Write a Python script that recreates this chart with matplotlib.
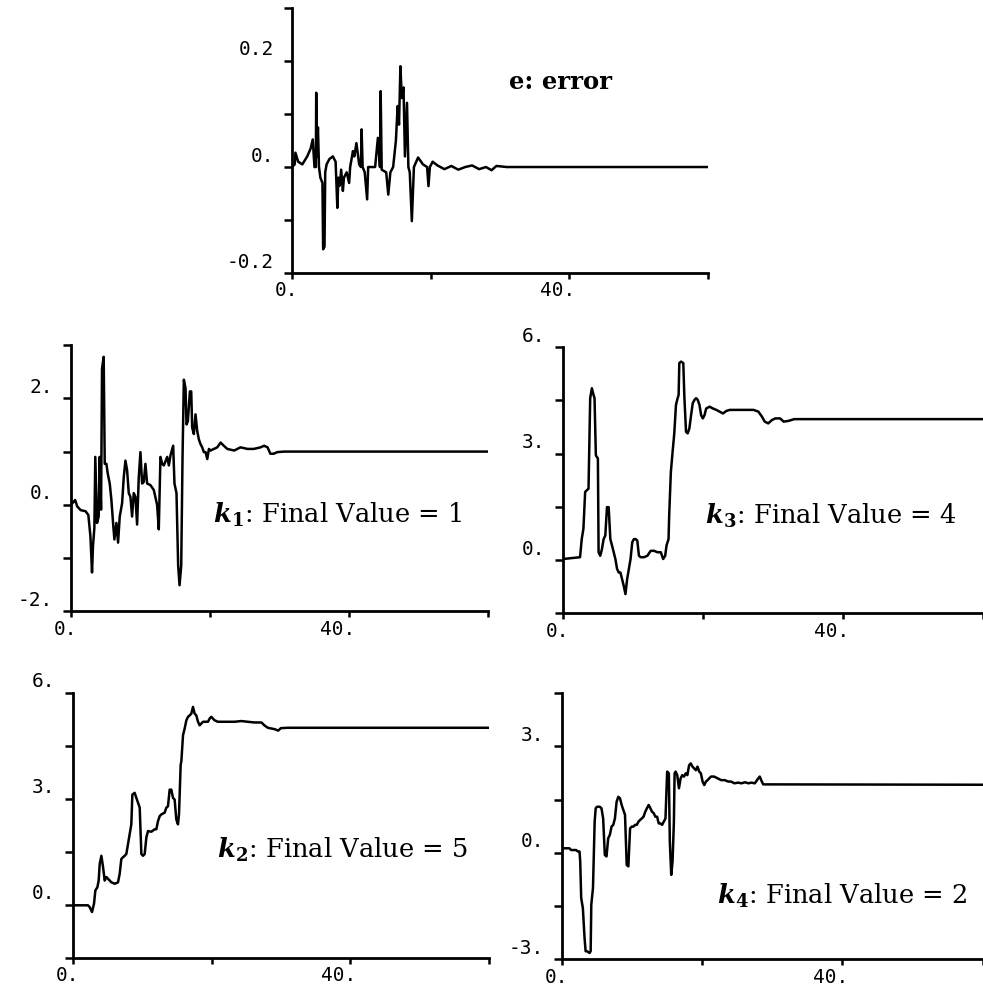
import matplotlib
matplotlib.use("Agg")
import matplotlib.pyplot as plt
from matplotlib.transforms import ScaledTranslation

plt.rcParams["mathtext.fontset"] = "dejavuserif"

# e: error
t_e = [0, 0.4, 0.5, 0.9, 1.5, 2.2, 2.7, 3.0, 3.25, 3.45, 3.5, 3.6, 3.75, 3.9, 4.1, 4.4, 4.5, 4.7,
       4.8, 5.0, 5.4, 5.9, 6.3, 6.55, 6.7, 6.9, 7.1, 7.35, 7.5, 7.9, 8.25, 8.4, 8.8, 9.0, 9.3, 9.7,
       9.95, 10.05, 10.2, 10.5, 10.85, 11.0, 12.0, 12.4, 12.7, 12.8, 12.95, 13.6, 13.9, 14.2, 14.6,
       15.0, 15.25, 15.45, 15.65, 15.85, 16.1, 16.3, 16.6, 16.8, 17.0, 17.3, 17.6, 18.2, 18.9, 19.5,
       19.7, 19.9, 20.3, 21.0, 22.0, 23.0, 24.0, 25.0, 26.0, 27.0, 28.0, 28.8, 29.5, 31.0, 60.0]
e = [0, 0.005, 0.027, 0.01, 0.005, 0.02, 0.035, 0.052, 0.0, 0.0, 0.14, 0.02, 0.075, 0.0, -0.02,
     -0.03, -0.155, -0.15, -0.01, 0.005, 0.015, 0.02, 0.01, -0.077, -0.02, -0.035, -0.005, -0.045,
     -0.02, -0.01, -0.03, 0.0, 0.03, 0.02, 0.045, 0.005, 0.0, 0.071, 0.0, -0.01, -0.061, 0.0, 0.0,
     0.055, 0.0, 0.143, -0.005, -0.01, -0.052, -0.01, 0.0, 0.05, 0.115, 0.08, 0.19, 0.13, 0.15,
     0.02, 0.121, 0.0, -0.01, -0.102, 0.0, 0.018, 0.005, 0.0, -0.036, 0.0, 0.01, 0.003, -0.004,
     0.002, -0.005, 0.0, 0.003, -0.004, 0.0, -0.006, 0.002, 0.0, 0.0]

# k1
t_k1 = [0, 0.6, 0.9, 1.4, 2.1, 2.5, 2.8, 3.03, 3.17, 3.37, 3.5, 3.75, 3.99, 4.13, 4.33, 4.47, 4.71,
        4.86, 5.1, 5.29, 5.58, 5.82, 6.06, 6.25, 6.54, 6.78, 7.02, 7.36, 7.6, 7.84, 8.08, 8.32, 8.56,
        8.8, 9.04, 9.28, 9.52, 9.76, 10.0, 10.24, 10.48, 10.72, 10.96, 11.44, 11.92, 12.4, 12.64,
        12.88, 13.13, 13.37, 13.85, 14.09, 14.33, 14.71, 14.9, 15.19, 15.43, 15.63, 15.87, 16.06,
        16.25, 16.49, 16.63, 16.83, 17.12, 17.31, 17.45, 17.69, 17.93, 18.17, 18.41, 18.65, 18.89,
        19.13, 19.38, 19.62, 19.86, 20.1, 20.58, 21.06, 21.54, 22.0, 22.5, 23.5, 24.4, 25.4, 26.3,
        27.3, 27.8, 28.3, 28.7, 29.2, 29.7, 30.7, 60]
k1 = [0.0, 0.09, -0.03, -0.1, -0.12, -0.19, -0.59, -1.27, -0.77, -0.43, 0.9, -0.34, -0.22, 0.9,
      -0.09, 2.56, 2.78, 0.77, 0.77, 0.59, 0.4, 0.09, -0.34, -0.65, -0.34, -0.71, -0.22, 0.03, 0.52,
      0.83, 0.65, 0.22, 0.15, -0.22, 0.22, 0.15, -0.37, 0.52, 0.99, 0.4, 0.43, 0.77, 0.4, 0.37, 0.28,
      0.0, -0.46, 0.9, 0.77, 0.74, 0.9, 0.74, 0.93, 1.11, 0.4, 0.22, -1.14, -1.51, -1.14, 0.9, 2.35,
      2.19, 1.51, 1.57, 2.13, 2.13, 1.45, 1.33, 1.7, 1.39, 1.23, 1.14, 1.08, 0.99, 0.99, 0.86, 1.05,
      1.02, 1.05, 1.08, 1.17, 1.11, 1.05, 1.02, 1.08, 1.05, 1.05, 1.08, 1.11, 1.08, 0.96, 0.96, 0.99,
      1.0, 1.0]

# k3
t_k3 = [0, 2.4, 2.64, 2.88, 3.13, 3.61, 3.85, 4.09, 4.33, 4.47, 4.66, 4.95, 5.05, 5.29, 5.53, 5.77,
        6.01, 6.25, 6.49, 6.73, 6.97, 7.21, 7.45, 7.69, 7.93, 8.17, 8.41, 8.65, 8.89, 9.13, 9.38,
        9.62, 9.86, 10.1, 10.34, 10.58, 10.82, 11.06, 11.54, 12.02, 12.5, 12.98, 13.46, 13.94, 14.28,
        14.57, 14.76, 15.05, 15.14, 15.38, 15.63, 15.87, 16.11, 16.35, 16.49, 16.59, 16.83, 17.16,
        17.31, 17.55, 17.79, 18.03, 18.27, 18.51, 18.75, 18.99, 19.23, 19.47, 19.71, 19.95, 20.19,
        20.43, 20.91, 21.39, 21.88, 22.36, 22.84, 23.3, 23.8, 24.8, 25.7, 27.2, 27.9, 28.4, 28.8,
        29.3, 29.8, 30.3, 31.0, 31.5, 32.2, 33.0, 60]
k3 = [0.03, 0.08, 0.59, 0.88, 1.92, 2.01, 4.56, 4.84, 4.65, 4.56, 2.95, 2.86, 0.22, 0.12, 0.31,
      0.59, 0.69, 1.49, 1.49, 0.59, 0.41, 0.22, 0.03, -0.25, -0.35, -0.35, -0.54, -0.73, -0.96,
      -0.54, -0.25, 0.03, 0.5, 0.59, 0.59, 0.55, 0.12, 0.08, 0.08, 0.12, 0.26, 0.26, 0.22, 0.22,
      0.03, 0.12, 0.41, 0.59, 1.25, 2.48, 3.05, 3.57, 4.37, 4.56, 4.65, 5.55, 5.59, 5.55, 4.6, 3.61,
      3.57, 3.71, 4.08, 4.42, 4.51, 4.56, 4.51, 4.37, 4.08, 3.99, 4.08, 4.27, 4.32, 4.27, 4.23, 4.18,
      4.13, 4.2, 4.23, 4.23, 4.23, 4.23, 4.18, 4.04, 3.9, 3.85, 3.94, 3.99, 3.99, 3.9, 3.92, 3.97,
      3.97]

# k2
t_k2 = [0, 2.16, 2.4, 2.74, 3.03, 3.22, 3.51, 3.7, 3.85, 4.09, 4.33, 4.57, 4.81, 5.05, 5.29, 5.53,
        6.01, 6.49, 6.73, 6.97, 7.21, 7.45, 7.69, 7.93, 8.17, 8.41, 8.56, 8.89, 9.13, 9.38, 9.62,
        9.86, 10.1, 10.34, 10.58, 10.82, 11.3, 11.78, 12.02, 12.26, 12.5, 12.74, 13.22, 13.46, 13.7,
        13.94, 14.18, 14.42, 14.66, 14.9, 15.14, 15.29, 15.53, 15.63, 15.87, 16.11, 16.35, 16.59,
        16.83, 17.07, 17.31, 17.55, 17.79, 18.03, 18.27, 18.51, 18.75, 18.99, 19.47, 19.71, 19.95,
        20.43, 20.91, 21.39, 22.36, 23.3, 24.3, 25.2, 26.2, 27.2, 27.6, 28.1, 29.1, 29.6, 30.0, 31.0,
        60]
k2 = [-0.01, -0.01, -0.06, -0.2, 0.04, 0.41, 0.5, 0.69, 1.16, 1.39, 1.07, 0.69, 0.79, 0.74, 0.69,
      0.64, 0.6, 0.64, 0.88, 1.3, 1.35, 1.39, 1.44, 1.72, 2.0, 2.28, 3.12, 3.17, 3.03, 2.89, 2.75,
      1.44, 1.39, 1.44, 1.91, 2.09, 2.07, 2.14, 2.14, 2.37, 2.51, 2.56, 2.61, 2.75, 2.79, 3.26, 3.26,
      3.03, 2.98, 2.42, 2.28, 2.56, 3.96, 4.06, 4.8, 4.99, 5.22, 5.32, 5.36, 5.41, 5.6, 5.41, 5.36,
      5.18, 5.08, 5.13, 5.18, 5.18, 5.18, 5.27, 5.32, 5.22, 5.18, 5.18, 5.18, 5.18, 5.2, 5.18, 5.16,
      5.16, 5.08, 5.01, 4.97, 4.93, 5.0, 5.01, 5.01]

# k4
t_k4 = [0, 1.06, 1.3, 2.02, 2.26, 2.5, 2.6, 2.74, 2.98, 3.22, 3.37, 3.56, 3.94, 4.09, 4.18, 4.42,
        4.66, 4.81, 5.0, 5.38, 5.63, 5.87, 6.11, 6.35, 6.59, 6.83, 7.07, 7.31, 7.55, 7.79, 8.03, 8.27,
        8.51, 8.75, 8.99, 9.23, 9.47, 9.71, 9.95, 10.19, 10.43, 10.67, 10.91, 11.15, 11.39, 11.63,
        11.88, 12.12, 12.36, 12.6, 12.84, 13.08, 13.32, 13.56, 13.8, 14.04, 14.28, 14.52, 14.76, 15.0,
        15.24, 15.38, 15.58, 15.77, 15.96, 16.06, 16.2, 16.44, 16.68, 16.92, 17.16, 17.4, 17.64,
        17.88, 18.13, 18.37, 18.61, 18.85, 19.09, 19.33, 19.57, 19.81, 20.05, 20.29, 20.53, 20.77,
        21.0, 21.25, 21.7, 22.2, 22.7, 23.2, 23.7, 24.1, 24.6, 25.1, 25.6, 26.1, 26.6, 27.0, 27.5,
        28.0, 28.2, 28.5, 28.7, 29.9, 60]
k4 = [0.13, 0.13, 0.08, 0.08, 0.04, 0.04, -0.24, -1.27, -1.56, -2.4, -2.77, -2.77, -2.82, -2.77,
      -1.46, -0.99, 0.88, 1.26, 1.3, 1.3, 1.26, 0.97, -0.06, -0.1, 0.41, 0.51, 0.74, 0.79, 0.97, 1.44,
      1.58, 1.54, 1.35, 1.21, 1.07, -0.34, -0.38, 0.69, 0.74, 0.74, 0.79, 0.79, 0.88, 0.93, 0.97,
      1.02, 1.16, 1.26, 1.35, 1.26, 1.16, 1.12, 1.02, 1.02, 0.83, 0.83, 0.79, 0.88, 0.97, 2.29, 2.24,
      0.32, -0.62, -0.24, 0.88, 2.24, 2.29, 2.19, 1.82, 2.1, 2.19, 2.15, 2.24, 2.19, 2.47, 2.52,
      2.43, 2.38, 2.33, 2.43, 2.29, 2.24, 2.01, 1.91, 2.01, 2.05, 2.1, 2.15, 2.15, 2.1, 2.05, 2.05,
      2.01, 2.01, 1.96, 1.98, 1.96, 1.99, 1.96, 1.98, 1.96, 2.1, 2.15, 2.01, 1.93, 1.93, 1.92]

x_ticks = [0, 20, 40, 60]
x_labels = ["0.", "", "40.", ""]

fig = plt.figure(figsize=(9.83, 9.86), dpi=100)
mono = "DejaVu Sans Mono"
serif = "DejaVu Serif"


def style(ax, ylim, yticks, ylabels):
    ax.set_xlim(0, 60)
    ax.set_ylim(*ylim)
    for s in ["top", "right"]:
        ax.spines[s].set_visible(False)
    for s in ["left", "bottom"]:
        ax.spines[s].set_linewidth(2.0)
    ax.set_xticks(x_ticks)
    ax.set_xticklabels(x_labels, fontfamily=mono, fontsize=14, ha="right")
    ax.set_yticks(yticks)
    ax.set_yticklabels(ylabels, fontfamily=mono, fontsize=14)
    ax.tick_params(axis="y", direction="out", length=6, width=1.8, pad=7)
    ax.tick_params(axis="x", direction="out", length=4, width=1.8, pad=2)
    # labels sit above their ticks, the decimal point on the tick
    up = ScaledTranslation(0, 0.13, fig.dpi_scale_trans)
    for lab in ax.get_yticklabels():
        lab.set_transform(lab.get_transform() + up)
    right = ScaledTranslation(0.06, 0, fig.dpi_scale_trans)
    for lab in ax.get_xticklabels():
        lab.set_transform(lab.get_transform() + right)


def label(ax, x, y, n, final):
    ax.text(x, y, r"$\mathbfit{k}_{\mathbf{%d}}$: Final Value = %d" % (n, final),
            fontfamily=serif, fontsize=18.5, va="center")


ax = fig.add_axes([0.297, 0.723, 0.423, 0.269])
ax.plot(t_e, e, color="black", lw=1.8)
style(ax, (-0.2, 0.3), [-0.2, -0.1, 0, 0.1, 0.2, 0.3], ["-0.2", "", "0.", "", "0.2", ""])
ax.text(31.3, 0.16, "e: error", fontfamily=serif, fontweight="bold", fontsize=17.5, va="center")

ax = fig.add_axes([0.0722, 0.380, 0.424, 0.270])
ax.plot(t_k1, k1, color="black", lw=1.8)
style(ax, (-2, 3), [-2, -1, 0, 1, 2, 3], ["-2.", "", "0.", "", "2.", ""])
label(ax, 20.4, -0.19, 1, 1)

ax = fig.add_axes([0.573, 0.378, 0.427, 0.270])
ax.plot(t_k3, k3, color="black", lw=1.8)
style(ax, (-1.5, 6), [-1.5, 0, 1.5, 3, 4.5, 6], ["", "0.", "", "3.", "", "6."])
label(ax, 20.3, 1.25, 3, 4)

ax = fig.add_axes([0.0743, 0.0284, 0.423, 0.269])
ax.plot(t_k2, k2, color="black", lw=1.8)
style(ax, (-1.5, 6), [-1.5, 0, 1.5, 3, 4.5, 6], ["", "0.", "", "3.", "", "6."])
label(ax, 20.8, 1.57, 2, 5)

ax = fig.add_axes([0.5717, 0.027, 0.428, 0.270])
ax.plot(t_k4, k4, color="black", lw=1.8)
style(ax, (-3, 4.5), [-3, -1.5, 0, 1.5, 3, 4.5], ["-3.", "", "0.", "", "3.", ""])
label(ax, 22.1, -1.22, 4, 2)

fig.savefig("out.png", dpi=100)
